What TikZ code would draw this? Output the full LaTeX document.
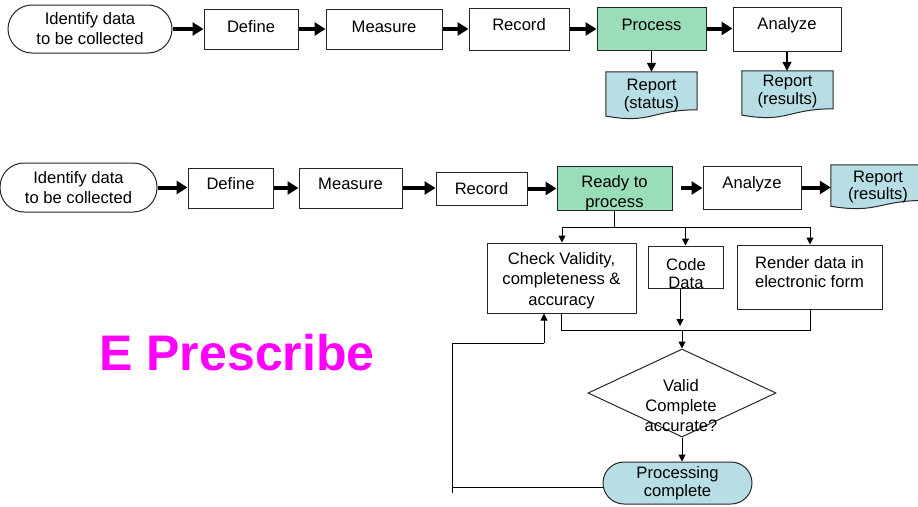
\documentclass[tikz,border=0pt]{standalone}
\usepackage{fontspec}
\setmainfont{Liberation Sans}
\usetikzlibrary{arrows.meta,shapes.geometric,calc,backgrounds}
\definecolor{boxgreen}{RGB}{153,221,185}
\definecolor{doccyan}{RGB}{183,222,228}
\definecolor{magentaE}{RGB}{255,0,255}
\newcommand{\docshape}[1]{%
  \path[draw=black!85, line width=1pt, fill=doccyan]
    let \p1=(#1.north west), \p2=(#1.south east) in
    (\x1,\y1) -- (\x2,\y1) -- (\x2,{\y1+0.802*(\y2-\y1)})
    .. controls ({0.5*(\x1+\x2)},{\y1+0.802*(\y2-\y1)}) and ({0.5*(\x1+\x2)},{\y1+1.107*(\y2-\y1)})
    .. (\x1,{\y1+0.934*(\y2-\y1)}) -- cycle;}
\begin{document}
\begin{tikzpicture}[x=1pt,y=-1pt,
  font=\fontsize{16.6}{20}\selectfont,
  box/.style={draw=black!85, line width=1pt, inner sep=0pt, align=center},
  wh/.style 2 args={minimum width=#1pt, minimum height=#2pt},
  stad/.style={box, rounded corners=#1pt},
  txt/.style={inner sep=0pt, align=center},
  thk/.style={line width=4pt, -{Triangle[length=11pt,width=13pt]}},
  mid/.style={line width=1.6pt, -{Triangle[length=9pt,width=9pt]}},
  thn/.style={line width=1pt, -{Triangle[length=7pt,width=7pt]}},
  ln/.style={line width=1pt},
]
\useasboundingbox (0,0) rectangle (918,506);

% ---------- Row 1 ----------
\node[stad=24, wh={164}{48}] (id1) at (90,29) {Identify data\\to be collected};
\node[box, wh={94}{40}, text height=12pt, text depth=5.2pt] (def1) at (251,29) {Define};
\node[box, wh={116}{40}, text height=12pt, text depth=5.2pt] (mea1) at (384,29) {Measure};
\node[box, wh={100}{42}, text height=12pt, text depth=9.6pt] (rec1) at (519,29) {Record};
\node[box, fill=boxgreen, wh={109}{43}, text height=12pt, text depth=8.6pt] (pro1) at (651.5,28.5) {Process};
\node[box, wh={108}{44}, text height=12pt, text depth=12pt] (ana1) at (787,29) {Analyze};

\node[txt, wh={91}{47}, font=\fontsize{16.6}{17.5}\selectfont] (rep1a) at (651.5,95.5) {Report\\(status)};
\node[txt, wh={91}{47}, font=\fontsize{16.6}{17.5}\selectfont] (rep1b) at (787.5,94.5) {};
\node[txt, font=\fontsize{16.6}{18}\selectfont] (rep1bT) at (787.5,91.5) {Report\\(results)};

% ---------- Row 2 ----------
\node[stad=24, wh={157}{49}] (id2) at (78.5,187.5) {Identify data\\to be collected};
\node[box, wh={85}{40}, text height=12pt, text depth=8.6pt] (def2) at (230.5,188) {Define};
\node[box, wh={103}{40}, text height=12pt, text depth=8.6pt] (mea2) at (350.5,188) {Measure};
\node[box, wh={91}{33}] (rec2) at (481.5,188.5) {Record};
\node[box, fill=boxgreen, wh={115}{44}] (rdy) at (614.5,188) {};
\node[box, wh={98}{43}, text height=12pt, text depth=10.6pt] (ana2) at (752,187.5) {Analyze};
\node[txt, wh={94}{44}, font=\fontsize{16.6}{17}\selectfont] (rep2) at (878,187) {Report\\(results)};

\node[box, wh={149}{70}] (chk) at (561.5,278) {};
\node[box, wh={75}{42}] (code) at (685.5,267) {};
\node[box, wh={145}{64}] (rend) at (809.5,277) {};
\node[diamond, draw=black!85, line width=1pt, minimum width=188pt, minimum height=88pt, inner sep=0pt] (dia) at (682,393) {};
\node[stad=21, fill=doccyan, wh={149}{42}, font=\fontsize{16.6}{18.5}\selectfont] (done) at (677.5,483) {Processing\\complete};

% background document shapes
\begin{scope}[on background layer]
  \docshape{rep1a}
  \docshape{rep1b}
  \docshape{rep2}
\end{scope}

% text placed inside boxes
\node[txt] (rdyT) at (614.5,193) {Ready to\\process};
\node[txt, font=\fontsize{16.6}{20.5}\selectfont] (chkT) at (561.5,280.5) {Check Validity,\\completeness \&\\accuracy};
\node[txt, font=\fontsize{16.6}{18.5}\selectfont] (codeT) at (686,273.5) {Code\\Data};
\node[txt, font=\fontsize{16.6}{19}\selectfont] (rendT) at (809.5,272) {Render data in\\electronic form};
\node[txt] (diaT) at (681,406) {Valid\\Complete\\accurate?};

% ---------- connectors row 1 ----------
\draw[thk] (id1.east) -- (def1.west);
\draw[thk] (def1.east) -- (mea1.west);
\draw[thk] (mea1.east) -- (rec1.west);
\draw[thk] (rec1.east) -- (rec1.east -| pro1.west);
\draw[thk] (pro1.east) -- (pro1.east -| ana1.west);
\draw[mid] (pro1.south) -- (rep1a.north);
\draw[mid] (ana1.south) -- (ana1.south |- rep1b.north);

% ---------- connectors row 2 ----------
\draw[thk] (id2.east) -- (id2.east -| def2.west);
\draw[thk] (def2.east) -- (mea2.west);
\draw[thk] (mea2.east) -- (mea2.east -| rec2.west);
\draw[thk] (rec2.east) -- (rec2.east -| rdy.west);
\draw[thk, shorten <=8pt] (rdy.east) -- (rdy.east -| ana2.west);
\draw[thk] (ana2.east) -- (ana2.east -| rep2.west);

% branch
\coordinate (bL) at (562,227);
\coordinate (bR) at (810,227);
\draw[ln] (rdy.south) |- (bL);
\draw[ln] (rdy.south) |- (bR);
\draw[thn] (bL) -- (bL |- chk.north);
\draw[thn] (code.north |- bL) -- (code.north);
\draw[thn] (bR) -- (bR |- rend.north);

% merge
\coordinate (mC) at (682,330);
\coordinate (mR) at (810,330);
\coordinate (cA) at (680,326);
\draw[ln] (chk.south) |- (mC);
\draw[ln] (mR |- rend.south) -- (mR) -- (mC);
\draw[thn] (cA |- code.south) -- (cA);
\draw[thn] (mC) -- (dia.north);
\draw[thn] (dia.south) -- (dia.south |- done.north);

% feedback loop
\coordinate (fbA) at (452,343);
\coordinate (fbB) at (544,343);
\coordinate (fbE) at (452,493);
\draw[ln] ($(done.west)+(0,4)$) -- (fbE |- {$(done.west)+(0,4)$});
\draw[ln] (fbE) -- (fbA) -- (fbB);
\draw[thn] (fbB) -- (fbB |- chk.south);

% title
\node[inner sep=0pt, anchor=base, text=magentaE, font=\fontsize{50}{60}\selectfont\bfseries] (eps) at (237,370) {E Prescribe};
\end{tikzpicture}
\end{document}
